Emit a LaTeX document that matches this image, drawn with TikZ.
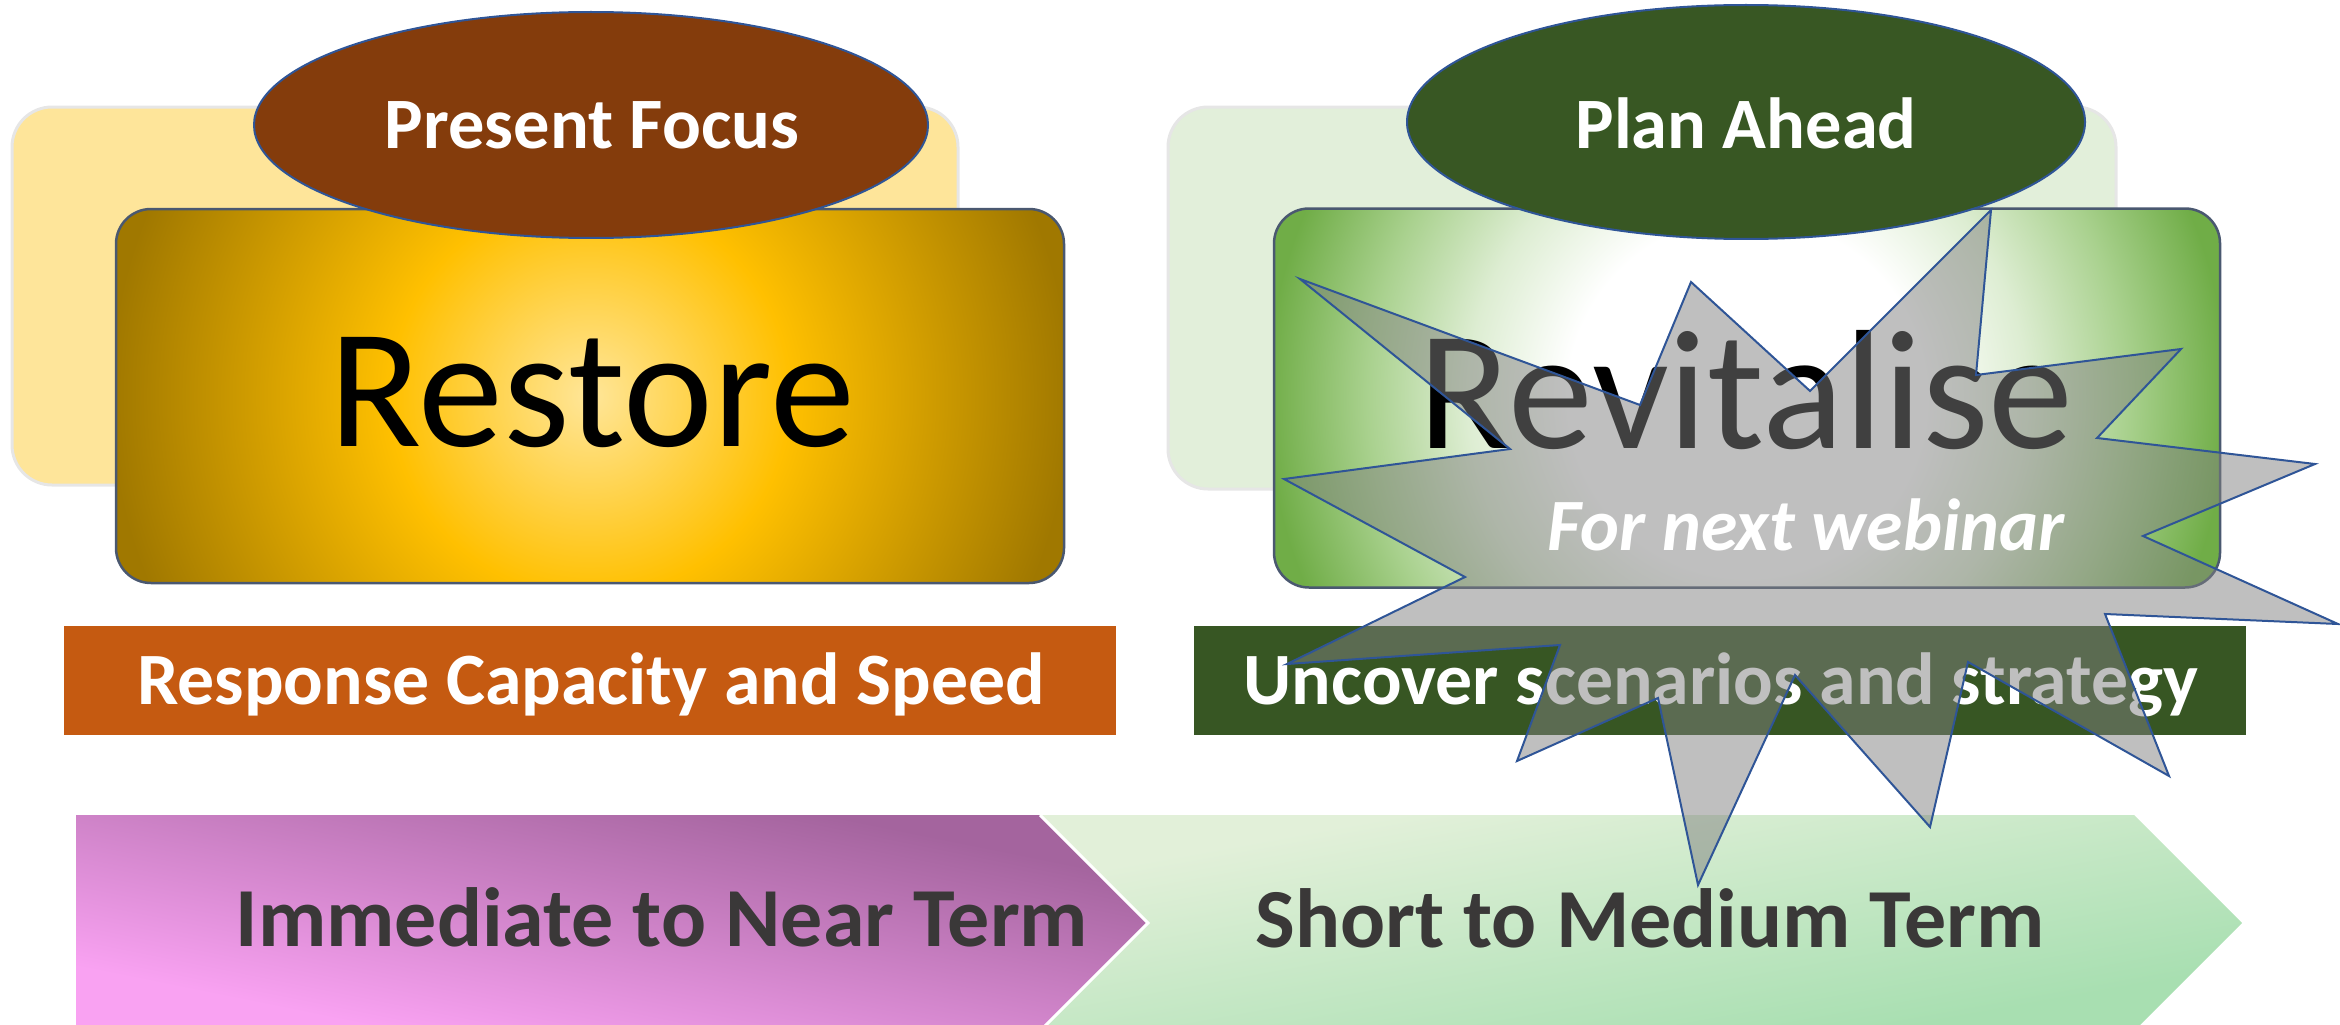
\documentclass[tikz,border=0pt]{standalone}
\usepackage{fontspec}
\setmainfont{Carlito}
\usetikzlibrary{shapes.geometric}
\definecolor{lightyel}{HTML}{FEE59A}
\definecolor{lightgrn}{HTML}{E2EFDA}
\definecolor{bgedge}{HTML}{E6E6E6}
\definecolor{brownell}{HTML}{843C0C}
\definecolor{greenell}{HTML}{385723}
\definecolor{ellborder}{HTML}{2F5597}
\definecolor{boxborder}{HTML}{4A5870}
\definecolor{orangebar}{HTML}{C55A11}
\definecolor{greenbar}{HTML}{375623}
\definecolor{termtext}{HTML}{3A3838}
\definecolor{rcenter}{HTML}{FFE699}
\definecolor{rmid}{HTML}{FFC000}
\definecolor{redge}{HTML}{A07800}
\definecolor{gcenter}{HTML}{FFFFFF}
\definecolor{gmid}{HTML}{DDEDD2}
\definecolor{gmidtwo}{HTML}{A9D18E}
\definecolor{gedge}{HTML}{70AD47}
\definecolor{pinkdark}{HTML}{A4649E}
\definecolor{pinklight}{HTML}{F9A2F2}
\definecolor{mintlight}{HTML}{E2F0D9}
\definecolor{mintdark}{HTML}{A8DFB1}
\definecolor{stargray}{HTML}{808080}
\pgfdeclareradialshading{restoreshade}{\pgfpointorigin}{color(0bp)=(rcenter); color(10bp)=(rmid); color(24bp)=(redge); color(50bp)=(redge)}
\pgfdeclareradialshading{revitshade}{\pgfpointorigin}{color(0bp)=(gcenter); color(9bp)=(gcenter); color(14bp)=(gmid); color(19bp)=(gmidtwo); color(24bp)=(gedge); color(50bp)=(gedge)}
\tikzset{
 bgrect/.style={draw=bgedge, line width=0.3mm, rounded corners=4mm, inner sep=0pt},
 mainbox/.style={draw=boxborder, line width=0.25mm, rounded corners=3.5mm, inner sep=0pt},
 headell/.style={ellipse, draw=ellborder, line width=0.2mm, inner sep=0pt},
 barbox/.style={inner sep=0pt, minimum width=105.2mm, minimum height=10.9mm},
 smalltxt/.style={text=white, font=\fontsize{21}{25}\selectfont\bfseries, inner sep=0pt, anchor=base},
 bigtxt/.style={font=\fontsize{48.4}{58}\selectfont, inner sep=0pt, anchor=base},
 termtxt/.style={text=termtext, font=\fontsize{23.9}{28}\selectfont\bfseries, inner sep=0pt, anchor=base},
 burst/.style={fill=stargray, fill opacity=0.5, draw=ellborder, line width=0.2mm, line join=miter},
}
\begin{document}
\begin{tikzpicture}[x=0.1mm,y=-0.1mm]
\useasboundingbox (0,0) rectangle (2340,1024);
\clip (0,0) rectangle (2340,1024);
% background light rectangles
\node[bgrect, fill=lightyel, minimum width=94.6mm, minimum height=37.8mm] (bgL) at (485,296) {};
\node[bgrect, fill=lightgrn, minimum width=94.8mm, minimum height=38.2mm] (bgR) at (1642,298) {};
% main boxes
\node[mainbox, minimum width=94.8mm, minimum height=37.4mm,
  path picture={\shade[shading=restoreshade] (path picture bounding box.center) circle (50mm);}] (restbox) at (590,396) {};
\node[mainbox, minimum width=94.6mm, minimum height=37.9mm,
  path picture={\shade[shading=revitshade] (path picture bounding box.center) circle (50mm);}] (revbox) at (1747,398) {};
% ellipses
\node[headell, fill=brownell, minimum width=67.4mm, minimum height=22.6mm] (pfell) at (591,125) {};
\node[headell, fill=greenell, minimum width=67.8mm, minimum height=23.4mm] (paell) at (1746,122) {};
\node[smalltxt, font=\fontsize{20.6}{25}\selectfont\bfseries] (pftxt) at (592,149) {Present Focus};
\node[smalltxt, font=\fontsize{20.6}{25}\selectfont\bfseries] (patxt) at (1746,148) {Plan Ahead};
% big words
\node[bigtxt] (resttxt) at (592,446) {Restore};
\node[bigtxt] (revtxt) at (1746,448) {Revitalise};
% bars
\node[barbox, fill=orangebar] (obar) at (590,680) {};
\node[barbox, fill=greenbar] (gbar) at (1720,680) {};
\node[smalltxt] (otxt) at (591,704) {Response Capacity and Speed};
\node[smalltxt] (gtxt) at (1721,704) {Uncover scenarios and strategy};
% chevrons (gradient stretched corner to corner)
\begin{scope}
\clip (1040,815) -- (2134,815) -- (2242,923) -- (2134,1031) -- (1040,1031) -- (1148,923) -- cycle;
\shade[transform canvas={shift={(1040,1031)}, xscale=12.02, yscale=2.16},
  top color=mintlight, bottom color=mintdark, shading angle=45] (0mm,0mm) rectangle (10mm,10mm);
\end{scope}
\begin{scope}
\clip (76,815) -- (1040,815) -- (1148,923) -- (1040,1031) -- (76,1031) -- cycle;
\shade[transform canvas={shift={(76,1031)}, xscale=10.72, yscale=2.16},
  top color=pinkdark, bottom color=pinklight, shading angle=-45] (0mm,0mm) rectangle (10mm,10mm);
\end{scope}
\draw[white, line width=0.3mm] (1040,815) -- (1148,923) -- (1040,1031);
\node[termtxt] (immtxt) at (662,946) {Immediate to Near Term};
\node[termtxt] (shorttxt) at (1650,947) {Short to Medium Term};
% starburst
\draw[burst] (1991,210) -- (1976,375) -- (2181,349) -- (2097,438) -- (2315,464) -- (2143,536)
  -- (2338,624) -- (2105,614) -- (2169,776) -- (1968,662) -- (1930,827) -- (1795,675)
  -- (1698,885) -- (1658,698) -- (1517,761) -- (1560,645) -- (1287,664) -- (1465,577)
  -- (1284,479) -- (1510,449) -- (1300,279) -- (1640,405) -- (1691,282) -- (1810,391) -- cycle;
\node[smalltxt, font=\fontsize{21}{25}\selectfont\bfseries\itshape] (webtxt) at (1806,550) {For next webinar};
\end{tikzpicture}
\end{document}
